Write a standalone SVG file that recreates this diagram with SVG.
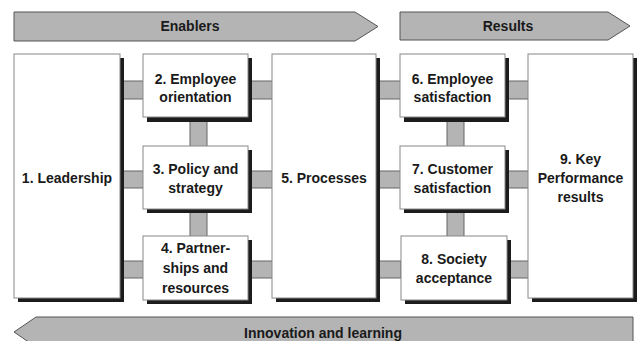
<svg xmlns="http://www.w3.org/2000/svg" width="638" height="341" viewBox="0 0 638 341">
<style>
.band{fill:#b4b4b4;stroke:#555;stroke-width:1}
.bar{fill:#b4b4b4;stroke:#666;stroke-width:1}
.box{fill:#fff;stroke:#888;stroke-width:1}
.sh{fill:#1c1c1c}
text{font-family:"Liberation Sans",Arial,sans-serif;font-weight:bold;font-size:14px;fill:#1a1a1a;text-anchor:middle}
</style>
<rect width="638" height="341" fill="#fff"/>
<g id="bands">
<polygon class="band" points="14,12 355,12 378,26.5 355,41 14,41"/>
<text x="190" y="31">Enablers</text>
<polygon class="band" points="400,12 608,12 630,26 608,40 400,40"/>
<text x="508" y="31">Results</text>
<polygon class="band" points="633,317 36,317 14,332 36,347 633,347"/>
<text x="323" y="338">Innovation and learning</text>
</g>
<g id="connectors">
<rect class="bar" x="120" y="81" width="24" height="18"/>
<rect class="bar" x="248" y="81" width="25" height="18"/>
<rect class="bar" x="120" y="171" width="24" height="17"/>
<rect class="bar" x="248" y="171" width="25" height="17"/>
<rect class="bar" x="120" y="261" width="24" height="17"/>
<rect class="bar" x="248" y="261" width="25" height="17"/>
<rect class="bar" x="190" y="117" width="17" height="30"/>
<rect class="bar" x="190" y="209" width="17" height="28"/>
<rect class="bar" x="376" y="81" width="25" height="18"/>
<rect class="bar" x="505" y="81" width="24" height="18"/>
<rect class="bar" x="376" y="171" width="25" height="17"/>
<rect class="bar" x="505" y="171" width="24" height="17"/>
<rect class="bar" x="376" y="261" width="25" height="17"/>
<rect class="bar" x="505" y="261" width="24" height="17"/>
<rect class="bar" x="447" y="117" width="17" height="30"/>
<rect class="bar" x="447" y="209" width="17" height="28"/>
</g>
<g id="n1">
<rect class="sh" x="18" y="58" width="106" height="244"/>
<rect class="box" x="14" y="54" width="106" height="244"/>
<text x="67" y="183">1. Leadership</text>
</g>
<g id="n2">
<rect class="sh" x="147" y="58" width="105" height="64"/>
<rect class="box" x="143" y="54" width="105" height="63"/>
<text x="195.5" y="84">2. Employee</text>
<text x="195.5" y="102">orientation</text>
</g>
<g id="n3">
<rect class="sh" x="147" y="150" width="105" height="63"/>
<rect class="box" x="143" y="146" width="105" height="63"/>
<text x="195.5" y="174">3. Policy and</text>
<text x="195.5" y="193">strategy</text>
</g>
<g id="n4">
<rect class="sh" x="147" y="240" width="105" height="64"/>
<rect class="box" x="143" y="236" width="105" height="64"/>
<text x="195.5" y="253">4. Partner-</text>
<text x="195.5" y="273">ships and</text>
<text x="195.5" y="293">resources</text>
</g>
<g id="n5">
<rect class="sh" x="276" y="58" width="104" height="244"/>
<rect class="box" x="272" y="54" width="104" height="244"/>
<text x="324" y="183">5. Processes</text>
</g>
<g id="n6">
<rect class="sh" x="404" y="58" width="105" height="64"/>
<rect class="box" x="400" y="54" width="105" height="63"/>
<text x="452.5" y="84">6. Employee</text>
<text x="452.5" y="102">satisfaction</text>
</g>
<g id="n7">
<rect class="sh" x="404" y="150" width="105" height="63"/>
<rect class="box" x="400" y="146" width="105" height="63"/>
<text x="452.5" y="174">7. Customer</text>
<text x="452.5" y="193">satisfaction</text>
</g>
<g id="n8">
<rect class="sh" x="405" y="240" width="106" height="64"/>
<rect class="box" x="401" y="236" width="106" height="64"/>
<text x="454" y="264">8. Society</text>
<text x="454" y="283">acceptance</text>
</g>
<g id="n9">
<rect class="sh" x="532" y="58" width="105" height="244"/>
<rect class="box" x="528" y="54" width="105" height="244"/>
<text x="580.5" y="164">9. Key</text>
<text x="580.5" y="183">Performance</text>
<text x="580.5" y="202">results</text>
</g>
</svg>
